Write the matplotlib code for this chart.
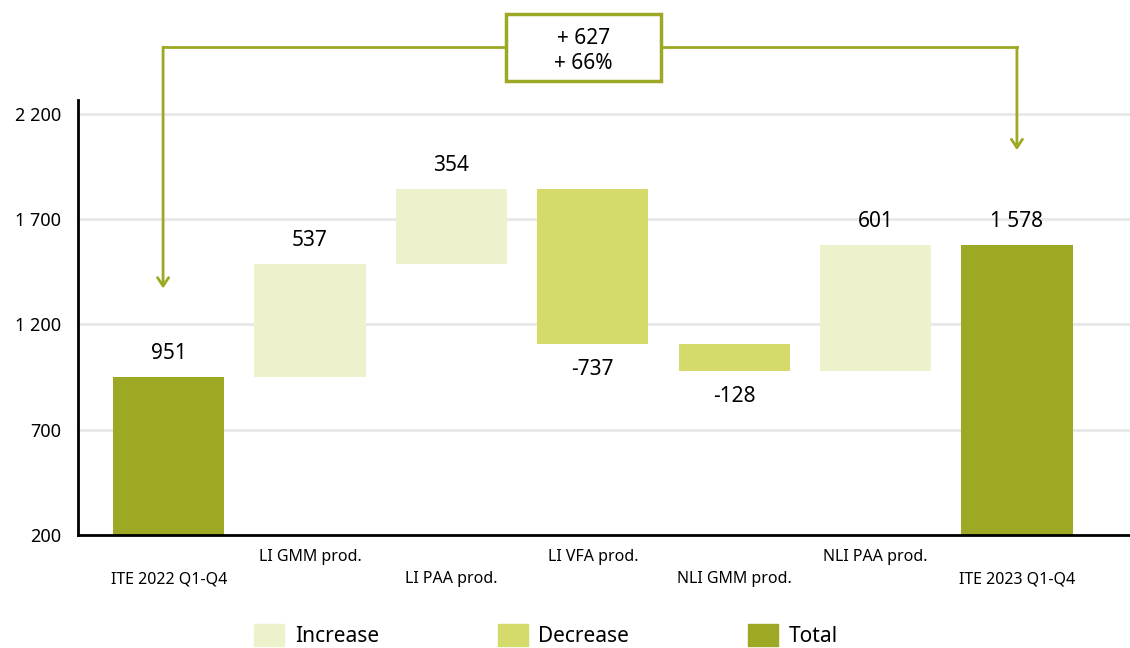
import matplotlib.pyplot as plt
from matplotlib.patches import Rectangle
from matplotlib.ticker import FuncFormatter

plt.rcParams['font.family'] = ['Noto Sans', 'DejaVu Sans']

categories = ['ITE 2022 Q1-Q4', 'LI GMM prod.', 'LI PAA prod.', 'LI VFA prod.',
              'NLI GMM prod.', 'NLI PAA prod.', 'ITE 2023 Q1-Q4']
changes = [951, 537, 354, -737, -128, 601, 1578]
kinds = ['total', 'inc', 'inc', 'dec', 'dec', 'inc', 'total']
yticks = [200, 700, 1200, 1700, 2200]

colors = {'inc': '#EEF2CC', 'dec': '#D4DB6B', 'total': '#9DA825'}
olive = '#9DA825'


def fmt_thousands(v, pos=None):
    return f'{int(v):,}'.replace(',', ' ')


fig = plt.figure(figsize=(11.3, 6.48), dpi=100)
ax = fig.add_axes([0.069, 0.1744, 0.931, 0.6713])

# waterfall: running total gives each floating bar its bottom
running = 0
for i, (c, k) in enumerate(zip(changes, kinds)):
    if k == 'total':
        bottom, height = 0, c
        running = c
    else:
        bottom = running if c > 0 else running + c
        height = abs(c)
        running += c
    ax.bar(i, height, bottom=bottom, width=0.787, color=colors[k], zorder=2)
    if c < 0:
        ax.annotate(f'{c}', (i, bottom), xytext=(0, -18), textcoords='offset points',
                    ha='center', va='center', fontsize=15)
    else:
        ax.annotate(fmt_thousands(c), (i, bottom + height), xytext=(0, 17),
                    textcoords='offset points', ha='center', va='center', fontsize=15)

ax.set_xlim(-0.642, 6.8)
ax.set_ylim(200, 2266)
ax.set_yticks(yticks)
ax.yaxis.set_major_formatter(FuncFormatter(fmt_thousands))
ax.tick_params(axis='y', length=0, labelsize=13, pad=12)
ax.tick_params(axis='x', length=0)
ax.set_xticks(range(len(categories)))
ax.set_xticklabels([])
for i, cat in enumerate(categories):
    ax.annotate(cat, (i, 0), xycoords=('data', 'axes fraction'),
                xytext=(0, -16 if i % 2 else -32), textcoords='offset points',
                ha='center', va='center', fontsize=11.5)

ax.grid(axis='y', color='#E8E8E8', lw=2, zorder=0)
for s in ['top', 'right']:
    ax.spines[s].set_visible(False)
ax.spines['left'].set_linewidth(2)
ax.spines['bottom'].set_linewidth(2)
ax.spines['bottom'].set_zorder(3)

# bracket showing the change between the two totals
first, last = changes[0], changes[-1]
diff = last - first
pct = diff / first * 100
y_line = 2517
box_x0, box_x1 = 2.387, 3.479
box_y0, box_y1 = 2356, 2674
arrow = dict(arrowstyle='->,head_length=0.6,head_width=0.4', color=olive, lw=2,
             shrinkA=0, shrinkB=0)
ax.plot([-0.04, box_x0], [y_line, y_line], color=olive, lw=2, clip_on=False)
ax.plot([box_x1, 6], [y_line, y_line], color=olive, lw=2, clip_on=False)
ax.annotate('', xy=(-0.04, first + 420), xytext=(-0.04, y_line),
            arrowprops=arrow, annotation_clip=False)
ax.annotate('', xy=(6, last + 450), xytext=(6, y_line),
            arrowprops=arrow, annotation_clip=False)
ax.add_patch(Rectangle((box_x0, box_y0), box_x1 - box_x0, box_y1 - box_y0,
                       fc='white', ec=olive, lw=2.5, clip_on=False, zorder=4))
ax.text((box_x0 + box_x1) / 2, (box_y0 + box_y1) / 2 - 15, f'+ {diff}\n+ {pct:.0f}%',
        ha='center', va='center', fontsize=15, linespacing=1.25, zorder=5)

# legend
handles = [Rectangle((0, 0), 1, 1, color=colors[k]) for k in ['inc', 'dec', 'total']]
fig.legend(handles, ['Increase', 'Decrease', 'Total'], loc='center left',
           bbox_to_anchor=(254 / 1130, 0.02), ncol=3, frameon=False, fontsize=15,
           handlelength=1.45, handleheight=1.25, columnspacing=5.7, handletextpad=0.5,
           borderpad=0, borderaxespad=0)

fig.savefig('out.png', dpi=100)
